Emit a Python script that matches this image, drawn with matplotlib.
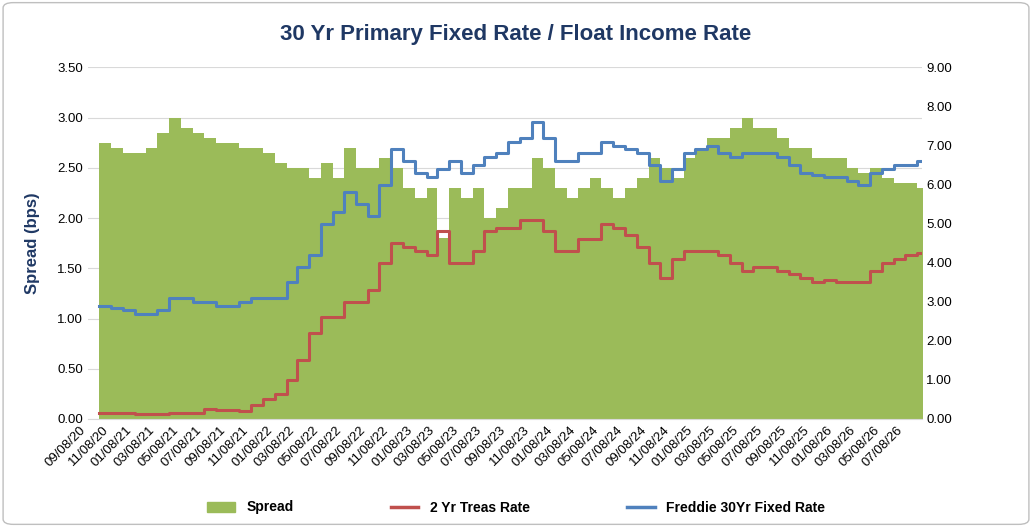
import numpy as np
import pandas as pd
import matplotlib
matplotlib.use("Agg")
import matplotlib.pyplot as plt
import matplotlib.dates as mdates
from matplotlib.patches import FancyBboxPatch

plt.rcParams['font.family'] = ['Liberation Sans', 'DejaVu Sans']

# monthly readings, starting 09/08/2020
dates = pd.date_range("2020-09-08", periods=72, freq="MS") + pd.Timedelta(days=7)

spread = [2.75, 2.70, 2.65, 2.65, 2.70, 2.85, 3.00, 2.90, 2.85, 2.80, 2.75, 2.75,
          2.70, 2.70, 2.65, 2.55, 2.50, 2.50, 2.40, 2.55, 2.40, 2.70, 2.50, 2.50,
          2.60, 2.50, 2.30, 2.20, 2.30, 1.80, 2.30, 2.20, 2.30, 2.00, 2.10, 2.30,
          2.30, 2.60, 2.50, 2.30, 2.20, 2.30, 2.40, 2.30, 2.20, 2.30, 2.40, 2.60,
          2.50, 2.40, 2.60, 2.70, 2.80, 2.80, 2.90, 3.00, 2.90, 2.90, 2.80, 2.70,
          2.70, 2.60, 2.60, 2.60, 2.50, 2.45, 2.50, 2.40, 2.35, 2.35, 2.30, 2.30]

treas2 = [0.14, 0.15, 0.16, 0.13, 0.12, 0.12, 0.15, 0.16, 0.15, 0.25, 0.22, 0.22,
          0.20, 0.35, 0.50, 0.65, 1.00, 1.50, 2.20, 2.60, 2.60, 3.00, 3.00, 3.30,
          4.00, 4.50, 4.40, 4.30, 4.20, 4.80, 4.00, 4.00, 4.30, 4.80, 4.90, 4.90,
          5.10, 5.10, 4.80, 4.30, 4.30, 4.60, 4.60, 5.00, 4.90, 4.70, 4.40, 4.00,
          3.60, 4.10, 4.30, 4.30, 4.30, 4.20, 4.00, 3.80, 3.90, 3.90, 3.80, 3.70,
          3.60, 3.50, 3.55, 3.50, 3.50, 3.50, 3.80, 4.00, 4.10, 4.20, 4.25, 4.30]

freddie = [2.90, 2.85, 2.80, 2.70, 2.70, 2.80, 3.10, 3.10, 3.00, 3.00, 2.90, 2.90,
           3.00, 3.10, 3.10, 3.10, 3.50, 3.90, 4.20, 5.00, 5.30, 5.80, 5.50, 5.20,
           6.00, 6.90, 6.60, 6.30, 6.20, 6.40, 6.60, 6.30, 6.50, 6.70, 6.80, 7.10,
           7.20, 7.60, 7.20, 6.60, 6.60, 6.80, 6.80, 7.10, 7.00, 6.90, 6.80, 6.50,
           6.10, 6.40, 6.80, 6.90, 7.00, 6.80, 6.70, 6.80, 6.80, 6.80, 6.70, 6.50,
           6.30, 6.25, 6.20, 6.20, 6.10, 6.00, 6.30, 6.40, 6.50, 6.50, 6.60, 6.65]

green = "#9BBB59"
red = "#C0504D"
blue = "#4F81BD"
navy = "#1F3864"

fig = plt.figure(figsize=(10.32, 5.27), dpi=100)
fig.patches.append(FancyBboxPatch((0.003, 0.005), 0.994, 0.99, boxstyle="round,pad=0,rounding_size=0.01",
                                  transform=fig.transFigure, fill=False, edgecolor="#BFBFBF", lw=1))
ax = fig.add_axes([0.085, 0.205, 0.808, 0.667])
ax2 = ax.twinx()

ax.fill_between(dates, spread, step="post", color=green, lw=0)
ax2.step(dates, treas2, where="post", color=red, lw=2.2)
ax2.step(dates, freddie, where="post", color=blue, lw=2.2)

ax.set_ylim(0, 3.5)
ax.set_yticks(np.arange(0, 3.51, 0.5))
ax.set_yticklabels([f"{v:.2f}" for v in np.arange(0, 3.51, 0.5)])
ax2.set_ylim(0, 9)
ax2.set_yticks(np.arange(0, 9.01, 1))
ax2.set_yticklabels([f"{v:.2f}" for v in np.arange(0, 9.01, 1)])
ax.set_xlim(pd.Timestamp("2020-09-08"), pd.Timestamp("2026-08-20"))
ticks = pd.date_range("2020-09-01", "2026-07-01", freq="2MS") + pd.Timedelta(days=7)
ax.set_xticks(ticks)
ax.set_xticklabels([t.strftime("%m/%d/%y") for t in ticks], rotation=45, ha="right", fontsize=9)
ax.yaxis.grid(True, color="#D9D9D9", lw=0.8)
ax.set_axisbelow(True)
for a in (ax, ax2):
    for s in a.spines.values():
        s.set_visible(False)
    a.tick_params(length=0, labelsize=9.5)
ax.spines["bottom"].set_visible(True)
ax.spines["bottom"].set_color("#D9D9D9")
ax.set_ylabel("Spread (bps)", color=navy, fontsize=12, fontweight="bold", labelpad=12)
fig.suptitle("30 Yr Primary Fixed Rate / Float Income Rate", color=navy, fontsize=16,
             fontweight="bold", y=0.955)

handles = [plt.Rectangle((0, 0), 1, 1, color=green),
           plt.Line2D([], [], color=red, lw=2.5),
           plt.Line2D([], [], color=blue, lw=2.5)]
fig.legend(handles, ["Spread", "2 Yr Treas Rate", "Freddie 30Yr Fixed Rate"], loc="lower center",
           bbox_to_anchor=(0.5, 0.0), ncol=3, frameon=False, columnspacing=7,
           prop={"weight": "bold", "size": 10})

fig.savefig("out.png", dpi=100)
